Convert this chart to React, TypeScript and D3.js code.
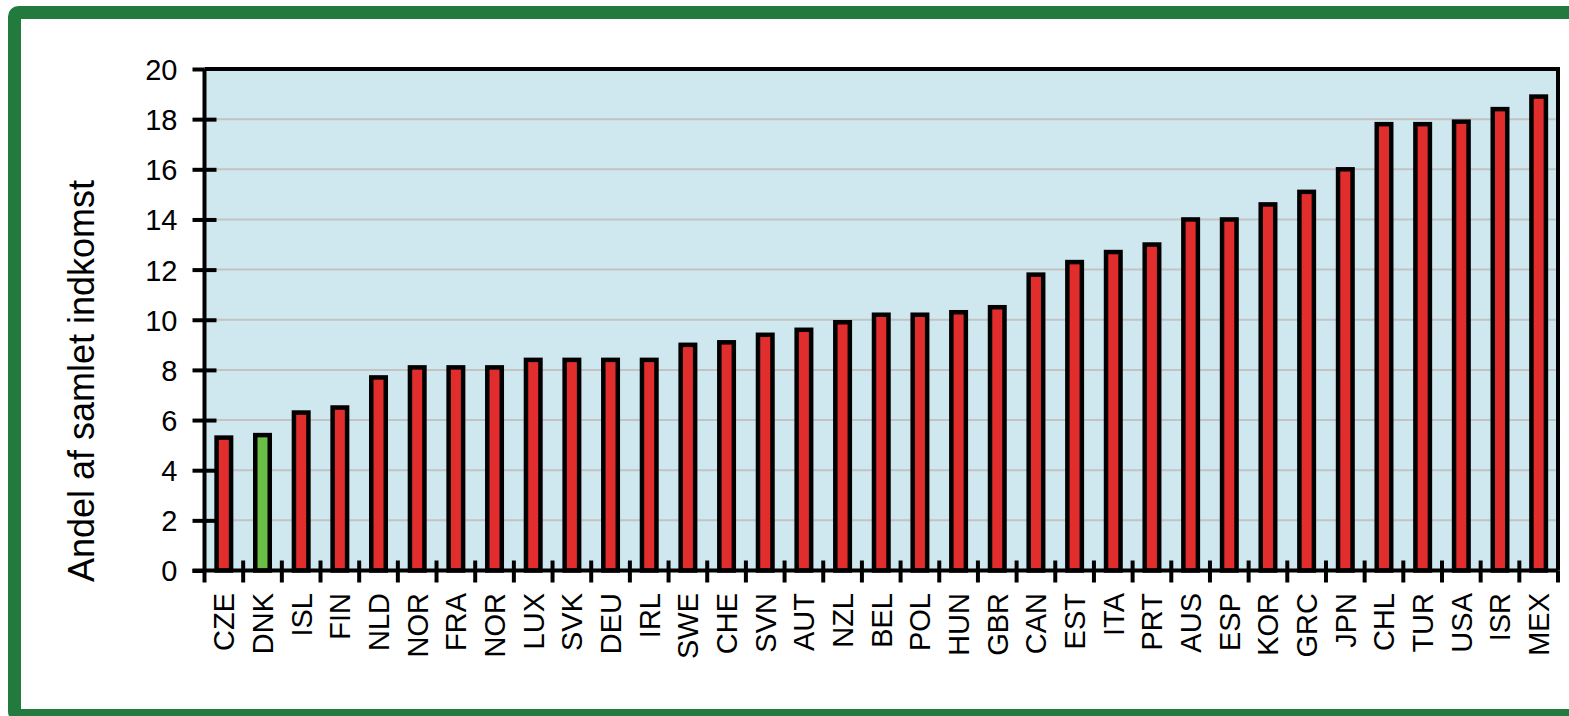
import React, { useEffect, useRef } from "react"
import * as d3 from "d3"

const countries = ["CZE", "DNK", "ISL", "FIN", "NLD", "NOR", "FRA", "NOR", "LUX", "SVK", "DEU", "IRL", "SWE", "CHE", "SVN", "AUT", "NZL", "BEL", "POL", "HUN", "GBR", "CAN", "EST", "ITA", "PRT", "AUS", "ESP", "KOR", "GRC", "JPN", "CHL", "TUR", "USA", "ISR", "MEX"]
const shares = [5.3, 5.4, 6.3, 6.5, 7.7, 8.1, 8.1, 8.1, 8.4, 8.4, 8.4, 8.4, 9.0, 9.1, 9.4, 9.6, 9.9, 10.2, 10.2, 10.3, 10.5, 11.8, 12.3, 12.7, 13.0, 14.0, 14.0, 14.6, 15.1, 16.0, 17.8, 17.8, 17.9, 18.4, 18.9]
const highlightIndex = 1 // DNK
const yTicks = [0, 2, 4, 6, 8, 10, 12, 14, 16, 18, 20]
const yTitle = "Andel af samlet indkomst"

const W = 1569
const H = 716
const FONT = "'Liberation Sans', Arial, sans-serif"

const App = () => {
    const ref = useRef<SVGSVGElement>(null)

    useEffect(() => {
        const svg = d3.select(ref.current)
        svg.selectAll("*").remove()

        const left = 204.5, right = 1558, top = 69, bottom = 570.5

        // green frame around everything
        svg.append("rect")
            .attr("x", 14.5).attr("y", 12.5)
            .attr("width", 1600).attr("height", 703)
            .attr("rx", 4)
            .attr("fill", "#fff")
            .attr("stroke", "#237a3f").attr("stroke-width", 13)

        const x = d3.scaleBand<number>()
            .domain(d3.range(countries.length))
            .range([left, right])
            .padding(0)

        const y = d3.scaleLinear().domain([0, 20]).range([bottom, top])

        svg.append("rect")
            .attr("x", left).attr("y", top)
            .attr("width", right - left).attr("height", bottom - top)
            .attr("fill", "#cfe8ef")

        svg.append("g").selectAll("line")
            .data(yTicks.filter(t => t > 0 && t < 20))
            .join("line")
            .attr("x1", left).attr("x2", right)
            .attr("y1", d => y(d)).attr("y2", d => y(d))
            .attr("stroke", "#c3c3c3").attr("stroke-width", 2)

        const bw = x.bandwidth() * 0.375
        svg.append("g").selectAll("rect")
            .data(shares)
            .join("rect")
            .attr("x", (d, i) => x(i)! + (x.bandwidth() - bw) / 2)
            .attr("y", d => y(d))
            .attr("width", bw)
            .attr("height", d => y(0) - y(d))
            .attr("fill", (d, i) => i === highlightIndex ? "#6abd45" : "#e22d2d")
            .attr("stroke", "#000").attr("stroke-width", 4.5)

        // plot frame: top and right
        svg.append("path")
            .attr("d", `M${left},${top}H${right}V${bottom}`)
            .attr("fill", "none").attr("stroke", "#000").attr("stroke-width", 4)

        // y axis
        const yAxis = svg.append("g").attr("transform", `translate(${left},0)`)
        yAxis.call(d3.axisLeft(y).tickValues(yTicks).tickSize(0).tickFormat(d3.format("d")))
        yAxis.select(".domain").remove()
        yAxis.selectAll(".tick text")
            .attr("x", -27).attr("dy", "0.36em")
            .attr("font-size", 29).attr("font-family", FONT).attr("fill", "#000")
        yAxis.selectAll(".tick").append("line")
            .attr("x1", -12).attr("x2", d => (d === 0 || d === 20) ? 0 : 12)
            .attr("stroke", "#000").attr("stroke-width", 4)
        yAxis.append("line")
            .attr("y1", top).attr("y2", bottom)
            .attr("stroke", "#000").attr("stroke-width", 4)

        // x axis
        const xAxis = svg.append("g")
        xAxis.append("line")
            .attr("x1", left - 12).attr("x2", right)
            .attr("y1", bottom).attr("y2", bottom)
            .attr("stroke", "#000").attr("stroke-width", 4)
        const edges = d3.range(countries.length + 1).map(i => left + i * x.step())
        xAxis.selectAll(".xt")
            .data(edges)
            .join("line")
            .attr("class", "xt")
            .attr("x1", d => d).attr("x2", d => d)
            .attr("y1", (d, i) => (i === 0 || i === countries.length) ? bottom : bottom - 10)
            .attr("y2", bottom + 12)
            .attr("stroke", "#000").attr("stroke-width", 4)
        xAxis.selectAll(".xl")
            .data(countries)
            .join("text")
            .attr("class", "xl")
            .attr("transform", (d, i) => `translate(${x(i)! + x.bandwidth() / 2},593) rotate(-90)`)
            .attr("dy", "0.36em")
            .attr("text-anchor", "end")
            .attr("font-size", 29).attr("font-family", FONT).attr("fill", "#000")
            .text(d => d)

        svg.append("text")
            .attr("transform", "translate(81,381) rotate(-90)")
            .attr("dy", "0.36em")
            .attr("text-anchor", "middle")
            .attr("font-size", 36).attr("font-family", FONT).attr("fill", "#000")
            .text(yTitle)
    }, [])

    return (
        <svg ref={ref} width={W} height={H}
            style={{ position: "absolute", left: 0, top: 0, display: "block" }} />
    )
}

export default App
